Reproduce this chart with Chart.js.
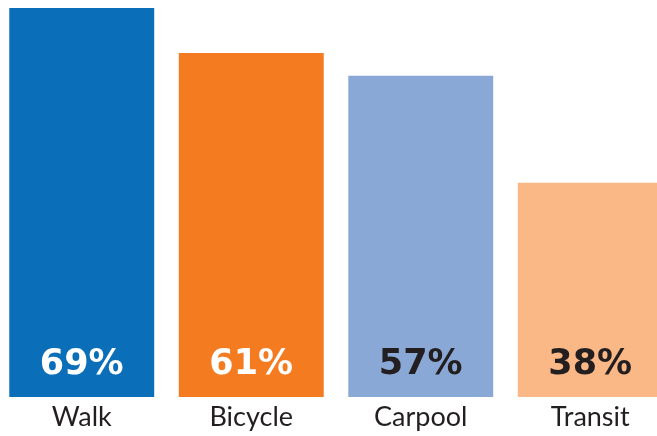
<!DOCTYPE html>
<html>
<head>
<meta charset="utf-8">
<script src="https://cdn.jsdelivr.net/npm/chart.js@4"></script>
<style>
  html, body { margin: 0; padding: 0; background: #fff; overflow: hidden; }
  #wrap { position: relative; width: 657px; height: 436px; overflow: hidden; }
  #box { position: absolute; left: -3px; top: 0; width: 678px; height: 438px; }
</style>
</head>
<body>
<div id="wrap"><div id="box"><canvas id="modeChart"></canvas></div></div>
<script>
// ── Data ─────────────────────────────────────────────────────
const modes      = ['Walk', 'Bicycle', 'Carpool', 'Transit'];
const shares     = [69, 61, 57, 38];
const barColors  = ['#0a6eb8', '#f47b20', '#8aa8d6', '#f9b885'];
const textColors = ['#ffffff', '#ffffff', '#231f20', '#231f20'];

// ── Percent labels sitting near the base of each bar ────────
const valueLabels = {
  id: 'valueLabels',
  afterDatasetsDraw(chart) {
    const ctx = chart.ctx;
    const meta = chart.getDatasetMeta(0);
    ctx.save();
    ctx.font = 'bold 35px "DejaVu Sans", sans-serif';
    ctx.textAlign = 'center';
    ctx.textBaseline = 'alphabetic';
    meta.data.forEach((bar, i) => {
      ctx.fillStyle = textColors[i];
      ctx.fillText(shares[i] + '%', bar.x, bar.base - 23);
    });
    ctx.restore();
  }
};

new Chart(document.getElementById('modeChart'), {
  type: 'bar',
  data: {
    labels: modes,
    datasets: [{
      data: shares,
      backgroundColor: barColors,
      borderWidth: 0,
      categoryPercentage: 1,
      barPercentage: 0.855
    }]
  },
  options: {
    responsive: true,
    maintainAspectRatio: false,
    animation: false,
    layout: { padding: 0 },
    plugins: { legend: { display: false }, tooltip: { enabled: false } },
    scales: {
      x: {
        grid: { display: false, drawTicks: false },
        border: { display: false },
        ticks: {
          color: '#231f20',
          padding: 7,
          font: { family: 'Lato, "DejaVu Sans", sans-serif', size: 27, lineHeight: 1 }
        }
      },
      y: {
        display: false,
        min: 0,
        max: 70.42
      }
    }
  },
  plugins: [valueLabels]
});
</script>
</body>
</html>
